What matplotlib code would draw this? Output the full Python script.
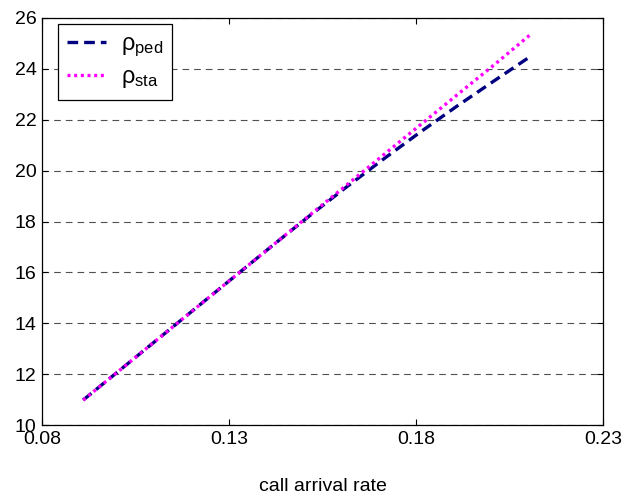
import matplotlib
matplotlib.use("Agg")
import matplotlib.pyplot as plt

plt.rcParams['font.family'] = ['Liberation Sans', 'DejaVu Sans']
plt.rcParams['mathtext.fontset'] = 'custom'
plt.rcParams['mathtext.rm'] = 'Liberation Sans'
plt.rcParams['mathtext.it'] = 'Liberation Sans:italic'

# call arrival rate
arrival_rate = [0.091, 0.101, 0.111, 0.121, 0.131, 0.141, 0.151,
                0.161, 0.171, 0.181, 0.191, 0.201, 0.211]
rho_ped = [10.98, 12.18, 13.38, 14.58, 15.78, 16.98, 18.16,
           19.31, 20.42, 21.50, 22.54, 23.54, 24.53]
rho_sta = [10.98, 12.18, 13.38, 14.58, 15.78, 16.98, 18.18,
           19.38, 20.58, 21.78, 22.98, 24.17, 25.40]

x_ticks = [0.08, 0.13, 0.18, 0.23]
x_tick_labels = ['0.08', '0.13', '0.18', '0.23']
y_ticks = [10, 12, 14, 16, 18, 20, 22, 24, 26]

W, H = 626, 501
fig = plt.figure(figsize=(W / 100, H / 100), dpi=100)
ax = fig.add_axes([42 / W, 1 - 425 / H, (603 - 42) / W, (425 - 18) / H])

ax.plot(arrival_rate, rho_ped, color='#000080', lw=2.4, linestyle=(0, (3.2, 1.8)),
        label=r'$\mathrm{ρ}_{\mathrm{ped}}$')
ax.plot(arrival_rate, rho_sta, color='#FF00FF', lw=2.4, linestyle=(0, (0.9, 1.1)),
        label=r'$\mathrm{ρ}_{\mathrm{sta}}$')

ax.set_xlim(0.08, 0.23)
ax.set_ylim(10, 26)
ax.set_xticks(x_ticks)
ax.set_xticklabels(x_tick_labels)
ax.set_yticks(y_ticks)

ax.yaxis.grid(True, color='#505050', lw=0.8, linestyle=(0, (6, 4.5)))
ax.set_axisbelow(True)

ax.tick_params(direction='in', top=True, right=True, length=4, width=0.8,
               labelsize=14, pad=4)
for s in ax.spines.values():
    s.set_linewidth(0.9)

ax.set_xlabel('call arrival rate', fontsize=14, labelpad=22)

leg = ax.legend(loc='upper left', bbox_to_anchor=(58 / W, 1 - 24 / H),
                bbox_transform=fig.transFigure, borderaxespad=0,
                fontsize=17, frameon=True, fancybox=False, edgecolor='black',
                framealpha=1, handlelength=1.65, handletextpad=0.6,
                borderpad=0.4, labelspacing=0.3)
leg.get_frame().set_linewidth(0.9)

fig.savefig('out.png', dpi=100)
